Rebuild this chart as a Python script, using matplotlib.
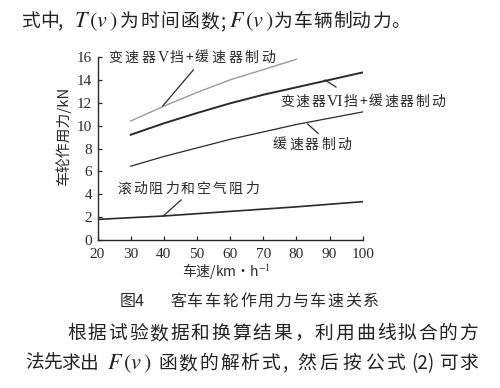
import matplotlib
matplotlib.use("Agg")
import matplotlib.pyplot as plt

plt.rcParams['font.family'] = ['Noto Sans CJK SC', 'DejaVu Sans']
plt.rcParams['mathtext.fontset'] = 'stix'

# ---- data ----
speed_v = [30, 40, 50, 60, 70, 80]
force_v = [10.4, 11.7, 12.9, 14.0, 14.9, 15.8]          # 变速器Ⅴ挡+缓速器制动

speed_vi = [30, 40, 50, 60, 70, 80, 90, 100]
force_vi = [9.2, 10.2, 11.1, 11.95, 12.7, 13.35, 14.0, 14.65]   # 变速器Ⅵ挡+缓速器制动

speed_r = [30, 40, 50, 60, 70, 80, 90, 100]
force_r = [6.45, 7.3, 8.05, 8.8, 9.45, 10.1, 10.65, 11.2]      # 缓速器制动

speed_roll = [20, 40, 60, 80, 100]
force_roll = [1.8, 2.1, 2.5, 2.9, 3.35]                         # 滚动阻力和空气阻力

x_ticks = [20, 30, 40, 50, 60, 70, 80, 90, 100]
y_ticks = [0, 2, 4, 6, 8, 10, 12, 14, 16]

label_v = ["变", "速", "器", "V", "挡", "+", "缓", "速", "器", "制", "动"]
label_vi = ["变", "速", "器", "VI", "挡", "+", "缓", "速", "器", "制", "动"]
label_r = "缓速器制动"
label_roll = "滚动阻力和空气阻力"
x_label = "车速/km·h$^{-1}$"
y_label = "车轮作用力/kN"
caption_fig = "图4"
caption = "客车车轮作用力与车速关系"

W, H = 500, 388
fig = plt.figure(figsize=(W / 100, H / 100), dpi=100)
fig.patch.set_facecolor('white')

left, right, bottom, top = 97.5, 362.7, 240, 57
ax = fig.add_axes([left / W, 1 - bottom / H, (right - left) / W, (bottom - top) / H])
ax.set_facecolor('none')

ink = '#2a2a2a'
body = '#222222'
ax.plot(speed_v, force_v, color='#9a9a9a', lw=1.0)
ax.plot(speed_vi, force_vi, color=ink, lw=1.4)
ax.plot(speed_r, force_r, color=ink, lw=0.9)
ax.plot(speed_roll, force_roll, color=ink, lw=1.2)

ax.set_xlim(20, 100)
ax.set_ylim(0, 16)
ax.set_xticks(x_ticks)
ax.set_yticks(y_ticks)
ax.set_xticklabels([str(t) for t in x_ticks], family='Liberation Serif', fontsize=11, color=ink)
ax.set_yticklabels([str(t) for t in y_ticks], family='Liberation Serif', fontsize=11, color=ink)
ax.tick_params(direction='in', length=3, width=0.9, colors=ink, pad=4)
ax.tick_params(axis='x', pad=6)
for s in ['top', 'right']:
    ax.spines[s].set_visible(False)
for s in ['left', 'bottom']:
    ax.spines[s].set_color(ink)
    ax.spines[s].set_linewidth(1.0)


def px(x, y):
    return (x / W, 1 - y / H)


def pointer(x0, y0, x1, y1):
    fig.add_artist(plt.Line2D([x0 / W, x1 / W], [1 - y0 / H, 1 - y1 / H], color=ink, lw=0.9))


# advances (px) of the non-CJK tokens inside the curve labels
LATIN_ADV = {"V": 11.5, "VI": 17.0, "+": 9.0}


def spaced(x, y_base, s, pitch, fs, color=ink):
    """Draw a string token by token with a fixed pitch (letter-spaced typesetting)."""
    cur = x
    for ch in s:
        if ch in ("V", "VI"):
            fig.text(*px(cur, y_base), ch, fontsize=fs + 1.2, color=color, ha='left',
                     va='baseline', family='Liberation Serif')
        else:
            fig.text(*px(cur, y_base), ch, fontsize=fs, color=color, ha='left', va='baseline')
        cur += LATIN_ADV.get(ch, pitch)


def seg(x, y_base, s, fs, color=body):
    fig.text(*px(x, y_base), s, fontsize=fs, color=color, ha='left', va='baseline')


# curve annotations
pointer(162.7, 106, 193.3, 70)
pointer(325, 80, 336, 87)
pointer(307.7, 124, 318, 133.3)
pointer(163.3, 216, 181, 200)

lab_fs = 10
spaced(108, 62, label_v, 16.6, lab_fs)
spaced(280, 106, label_vi, 15.6, lab_fs)
spaced(273, 149, label_r, 16.0, lab_fs)
spaced(117, 193, label_roll, 16.0, lab_fs)

fig.text(*px(63, 136), y_label, fontsize=10.7, color=ink, rotation=90, ha='center', va='center')
fig.text(*px(226, 271), x_label, fontsize=10, color=ink, ha='center', va='center')

cap_fs = 11.5
seg(120, 306, caption_fig, cap_fs, ink)
spaced(170, 306, caption, 17.5, cap_fs)

# surrounding body text of the page
bfs = 13.5
mfs = 16
yb = 27
spaced(22, yb, "式中", 18, bfs, body)
seg(58, yb, ",", bfs)
seg(74, yb, r"$T\,(v\,)$", mfs)
spaced(120, yb, "为时间函数", 20, bfs, body)
seg(221, yb, ";", bfs)
seg(229, yb, r"$F\,(v\,)$", mfs)
spaced(274, yb, "为车辆制动力。", 19.6, bfs, body)

spaced(67, 339, "根据试验数据和换算结果，利用曲线拟合的方", 20.65, bfs, body)

yb2 = 369
spaced(25, yb2, "法先求出", 18, bfs, body)
seg(107, yb2, r"$F\,(v\,)$", mfs)
spaced(158, yb2, "函数的解析式", 20.7, bfs, body)
seg(283, yb2, ",", bfs)
spaced(297, yb2, "然后按公式", 22.6, bfs, body)
seg(411, yb2, "(2)", bfs)
spaced(440, yb2, "可求", 19.5, bfs, body)

fig.savefig('out.png', dpi=100, facecolor='white')
